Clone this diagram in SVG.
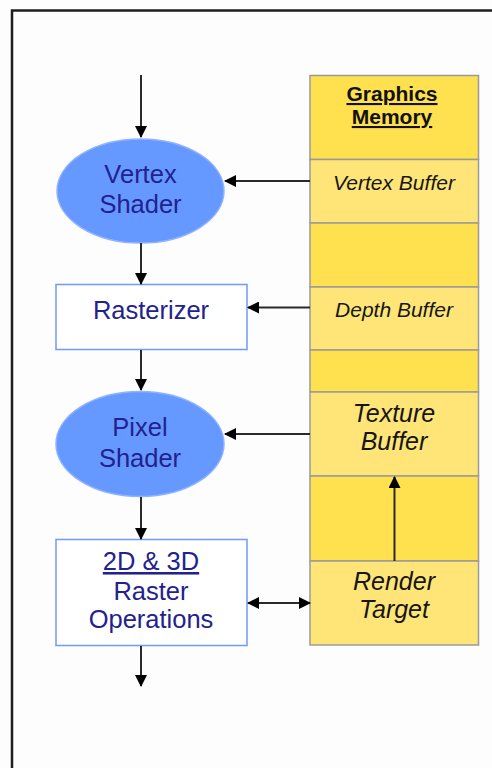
<svg xmlns="http://www.w3.org/2000/svg" width="492" height="768" viewBox="0 0 492 768">
  <style>
    .shader { fill: #6699ff; stroke: #8fb3ff; stroke-width: 1.5; }
    .box { fill: #ffffff; stroke: #6d9bff; stroke-width: 1.5; }
    .mem-head { fill: #ffe04e; stroke: #9a9a9a; stroke-width: 1.5; }
    .mem-slot { fill: #ffe577; stroke: #9a9a9a; stroke-width: 1.5; }
    .mem-gap { fill: #ffe04e; stroke: #9a9a9a; stroke-width: 1.5; }
    .stage { font-family: "Liberation Sans", Arial, sans-serif; font-size: 25.5px; fill: #22228f; text-anchor: middle; }
    .buf { font-family: "Liberation Sans", Arial, sans-serif; font-style: italic; fill: #161616; text-anchor: middle; }
    .title { font-family: "Liberation Sans", Arial, sans-serif; font-weight: bold; font-size: 21px; fill: #111111; text-anchor: middle; text-decoration: underline; }
    .flow { stroke: #2a2a2a; stroke-width: 2; fill: none; }
  </style>
  <defs>
    <marker id="head" viewBox="0 0 12 12" refX="11" refY="6" markerWidth="12" markerHeight="12" markerUnits="userSpaceOnUse" orient="auto-start-reverse">
      <path d="M0,0 L12,6 L0,12 Z" fill="#000000"/>
    </marker>
  </defs>

  <!-- page -->
  <rect x="0" y="0" width="492" height="768" fill="#fdfdfd"/>
  <rect x="12" y="10.5" width="520" height="800" fill="#fdfdfd" stroke="#1e1e1e" stroke-width="2.5"/>

  <!-- graphics memory column -->
  <g id="graphics-memory">
    <rect class="mem-head" x="310" y="75.5" width="168.5" height="84"/>
    <text class="title" x="392" y="101">Graphics</text>
    <text class="title" x="392" y="124">Memory</text>
  </g>
  <g id="vertex-buffer">
    <rect class="mem-slot" x="310" y="159.5" width="168.5" height="63.5"/>
    <text class="buf" x="394" y="190" font-size="21">Vertex Buffer</text>
  </g>
  <g id="memory-gap-1">
    <rect class="mem-gap" x="310" y="223" width="168.5" height="64"/>
  </g>
  <g id="depth-buffer">
    <rect class="mem-slot" x="310" y="287" width="168.5" height="63"/>
    <text class="buf" x="394" y="317" font-size="21">Depth Buffer</text>
  </g>
  <g id="memory-gap-2">
    <rect class="mem-gap" x="310" y="350" width="168.5" height="42"/>
  </g>
  <g id="texture-buffer">
    <rect class="mem-slot" x="310" y="392" width="168.5" height="84"/>
    <text class="buf" x="394" y="422" font-size="25">Texture</text>
    <text class="buf" x="394" y="450" font-size="25">Buffer</text>
  </g>
  <g id="memory-gap-3">
    <rect class="mem-gap" x="310" y="476" width="168.5" height="85"/>
  </g>
  <g id="render-target">
    <rect class="mem-slot" x="310" y="561" width="168.5" height="84"/>
    <text class="buf" x="394" y="590" font-size="25">Render</text>
    <text class="buf" x="394" y="618" font-size="25">Target</text>
  </g>

  <!-- pipeline stages -->
  <g id="vertex-shader">
    <ellipse class="shader" cx="140.5" cy="191" rx="83.5" ry="52"/>
    <text class="stage" x="140.5" y="183">Vertex</text>
    <text class="stage" x="140.5" y="213">Shader</text>
  </g>
  <g id="rasterizer">
    <rect class="box" x="56" y="284.5" width="191" height="65"/>
    <text class="stage" x="151" y="319" font-size="26.5">Rasterizer</text>
  </g>
  <g id="pixel-shader">
    <ellipse class="shader" cx="140" cy="444" rx="84" ry="52.5"/>
    <text class="stage" x="140" y="436">Pixel</text>
    <text class="stage" x="140" y="467">Shader</text>
  </g>
  <g id="raster-operations">
    <rect class="box" x="56" y="539.5" width="191" height="106"/>
    <text class="stage" x="151" y="570" text-decoration="underline">2D &amp; 3D</text>
    <text class="stage" x="151" y="600">Raster</text>
    <text class="stage" x="151" y="628">Operations</text>
  </g>

  <!-- connectors -->
  <g id="connectors">
    <line class="flow" x1="141" y1="75" x2="141" y2="137" marker-end="url(#head)"/>
    <line class="flow" x1="141" y1="243" x2="141" y2="284" marker-end="url(#head)"/>
    <line class="flow" x1="141" y1="350" x2="141" y2="390" marker-end="url(#head)"/>
    <line class="flow" x1="141" y1="497" x2="141" y2="539" marker-end="url(#head)"/>
    <line class="flow" x1="141" y1="646" x2="141" y2="686" marker-end="url(#head)"/>
    <line class="flow" x1="310" y1="181" x2="225" y2="181" marker-end="url(#head)"/>
    <line class="flow" x1="310" y1="307.5" x2="248" y2="307.5" marker-end="url(#head)"/>
    <line class="flow" x1="310" y1="434" x2="225" y2="434" marker-end="url(#head)"/>
    <line class="flow" x1="248" y1="603" x2="310" y2="603" marker-start="url(#head)" marker-end="url(#head)"/>
    <line class="flow" x1="394.5" y1="561" x2="394.5" y2="477" marker-end="url(#head)"/>
  </g>
</svg>
